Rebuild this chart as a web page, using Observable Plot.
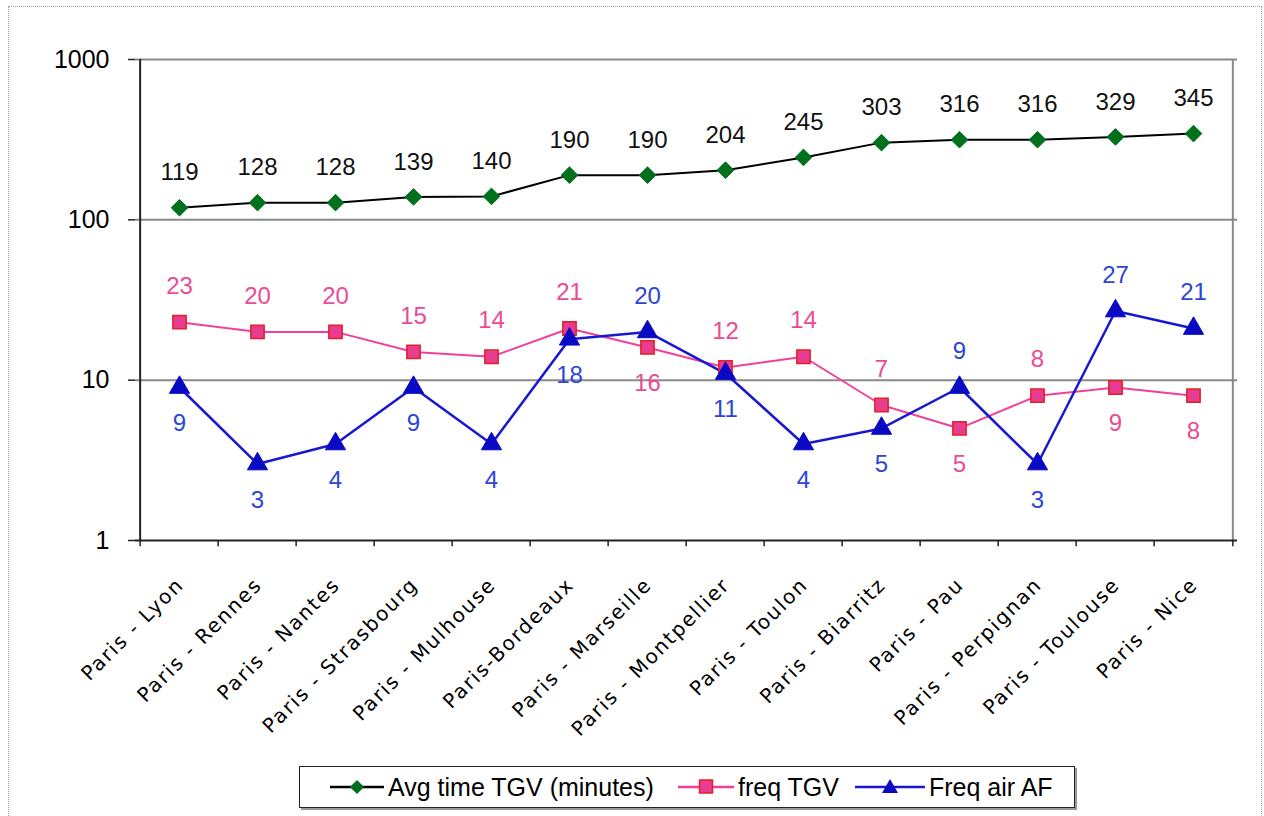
<!DOCTYPE html>
<html>
<head>
<meta charset="utf-8">
<script src="https://cdn.jsdelivr.net/npm/d3@7"></script>
<script src="https://cdn.jsdelivr.net/npm/@observablehq/plot@0.6"></script>
<style>
  html, body { margin: 0; padding: 0; background: #fff; }
  body { position: relative; width: 1264px; height: 816px; overflow: hidden; font-family: "Liberation Sans", Arial, sans-serif; }
  #outer { position: absolute; left: 8px; top: 6px; width: 1254px; height: 830px; border: 1px dotted #a0a0a0; box-sizing: border-box; }
  #chart { position: absolute; left: 0; top: 0; }
  #chart g[font-family*="DejaVu"] text { letter-spacing: 1.8px; }
  #legend { position: absolute; left: 299px; top: 766px; width: 776px; height: 42px; border: 1px solid #222; box-sizing: border-box; background: #fff; box-shadow: 2px 2px 0 #999; }
  .item { position: absolute; top: 0; height: 40px; display: flex; align-items: center; font-size: 25px; color: #000; white-space: nowrap; }
  .item svg { margin-right: 4px; }
</style>
</head>
<body>
<div id="outer"></div>
<div id="chart"></div>
<div id="legend"></div>
<script>
const categories = ["Paris - Lyon", "Paris - Rennes", "Paris - Nantes", "Paris - Strasbourg", "Paris - Mulhouse", "Paris-Bordeaux", "Paris - Marseille", "Paris - Montpellier", "Paris - Toulon", "Paris - Biarritz", "Paris - Pau", "Paris - Perpignan", "Paris - Toulouse", "Paris - Nice"];
const avgTime = [119, 128, 128, 139, 140, 190, 190, 204, 245, 303, 316, 316, 329, 345];
const freqTGV = [23, 20, 20, 15, 14, 21, 16, 12, 14, 7, 5, 8, 9, 8];
const freqAF = [9, 3, 4, 9, 4, 18, 20, 11, 4, 5, 9, 3, 27, 21];
const tgvLabelPos = ["above", "above", "above", "above", "above", "above", "below", "above", "above", "above", "below", "above", "below", "below"];
const afLabelPos = ["below", "below", "below", "below", "below", "below", "above", "below", "below", "below", "above", "below", "above", "above"];
const yTicks = [1, 10, 100, 1000];
const gridValues = [10, 100, 1000];
const seriesNames = ["Avg time TGV (minutes)", "freq TGV", "Freq air AF"];

const rows = categories.map((c, i) => ({cat: c, avg: avgTime[i], tgv: freqTGV[i], af: freqAF[i], tgvPos: tgvLabelPos[i], afPos: afLabelPos[i]}));

const W = 1264, H = 760, ML = 135, MR = 27, MT = 59, MB = 220;
const step = (W - ML - MR) / categories.length;

const cGreen = "#00701c", cPinkLine = "#f2409a", cPinkFill = "#e83b92", cPinkStroke = "#e0231f";
const cBlueLine = "#1818d2", cBlueFill = "#0a0ac4", cPinkText = "#ea4b95", cBlueText = "#2b45d8";

const chart = Plot.plot({
  width: W, height: H,
  marginLeft: ML, marginRight: MR, marginTop: MT, marginBottom: MB,
  x: {type: "band", domain: categories, padding: 0, axis: null},
  y: {type: "log", domain: [1, 1000], axis: null},
  style: {fontFamily: "'Liberation Sans', Arial, sans-serif", background: "transparent", overflow: "visible"},
  marks: [
    Plot.ruleY(gridValues, {stroke: "#8a8a8a", strokeWidth: 2}),
    Plot.ruleX([categories[categories.length - 1]], {dx: step / 2, y1: 1, y2: 1000, stroke: "#8a8a8a", strokeWidth: 2}),
    Plot.ruleX([categories[0]], {dx: -step / 2, y1: 1, y2: 1000, stroke: "#222", strokeWidth: 2}),
    Plot.ruleY([1], {stroke: "#222", strokeWidth: 2}),
    Plot.ruleX(categories, {dx: -step / 2, y1: 1, y2: 0.915, stroke: "#222", strokeWidth: 1.5}),
    Plot.ruleX([categories[categories.length - 1]], {dx: step / 2, y1: 1, y2: 0.915, stroke: "#222", strokeWidth: 1.5}),
    Plot.axisY({ticks: yTicks, tickFormat: d => String(d), tickSize: 7, tickPadding: 19, fontSize: 25, stroke: "#222", strokeWidth: 1.5, label: null, fill: "#000"}),
    Plot.text(categories, {x: d => d, frameAnchor: "bottom", dy: 41, dx: 1, rotate: -45, textAnchor: "end", lineAnchor: "middle", fontSize: 20, fontFamily: "'DejaVu Sans', Verdana, sans-serif", fill: "#000"}),
    // series lines
    Plot.line(rows, {x: "cat", y: "avg", stroke: "#000", strokeWidth: 2}),
    Plot.line(rows, {x: "cat", y: "tgv", stroke: cPinkLine, strokeWidth: 2}),
    Plot.line(rows, {x: "cat", y: "af", stroke: cBlueLine, strokeWidth: 2.5}),
    // markers
    Plot.dot(rows, {x: "cat", y: "avg", symbol: "diamond2", r: 7.5, fill: cGreen, stroke: cGreen, strokeWidth: 1}),
    Plot.dot(rows, {x: "cat", y: "tgv", symbol: "square", r: 7.5, fill: cPinkFill, stroke: cPinkStroke, strokeWidth: 1.5}),
    Plot.dot(rows, {x: "cat", y: "af", symbol: "triangle", r: 7.5, fill: cBlueFill, stroke: cBlueFill, strokeWidth: 1}),
    // labels
    Plot.text(rows, {x: "cat", y: "avg", text: d => String(d.avg), dy: -35, fontSize: 24, fill: "#111"}),
    Plot.text(rows.filter(d => d.tgvPos === "above"), {x: "cat", y: "tgv", text: d => String(d.tgv), dy: -36, fontSize: 24, fill: cPinkText}),
    Plot.text(rows.filter(d => d.tgvPos === "below"), {x: "cat", y: "tgv", text: d => String(d.tgv), dy: 36, fontSize: 24, fill: cPinkText}),
    Plot.text(rows.filter(d => d.afPos === "above"), {x: "cat", y: "af", text: d => String(d.af), dy: -36, fontSize: 24, fill: cBlueText}),
    Plot.text(rows.filter(d => d.afPos === "below"), {x: "cat", y: "af", text: d => String(d.af), dy: 36, fontSize: 24, fill: cBlueText})
  ]
});
document.getElementById("chart").appendChild(chart);

// legend
const legend = document.getElementById("legend");
const swatches = [
  {name: seriesNames[0], left: 30, lineW: 54, line: "#000", marker: `<rect x="21" y="14" width="10" height="10" transform="rotate(45 26 19)" fill="${cGreen}"/>`, shift: 26},
  {name: seriesNames[1], left: 378, lineW: 56, line: cPinkLine, marker: `<rect x="21" y="12" width="13" height="13" fill="${cPinkFill}" stroke="${cPinkStroke}" stroke-width="1.5"/>`, shift: 27.5},
  {name: seriesNames[2], left: 555, lineW: 70, line: cBlueLine, marker: `<polygon points="35,11 43,25 27,25" fill="${cBlueFill}"/>`, shift: 35}
];
swatches.forEach(s => {
  const div = document.createElement("div");
  div.className = "item";
  div.style.left = s.left + "px";
  div.innerHTML = `<svg width="${s.lineW}" height="38" viewBox="0 0 ${s.lineW} 38"><line x1="0" y1="19" x2="${s.lineW}" y2="19" stroke="${s.line}" stroke-width="2.5"/><g transform="translate(${s.lineW/2 - s.shift},0)">${s.marker}</g></svg><span>${s.name}</span>`;
  legend.appendChild(div);
});
</script>
</body>
</html>
